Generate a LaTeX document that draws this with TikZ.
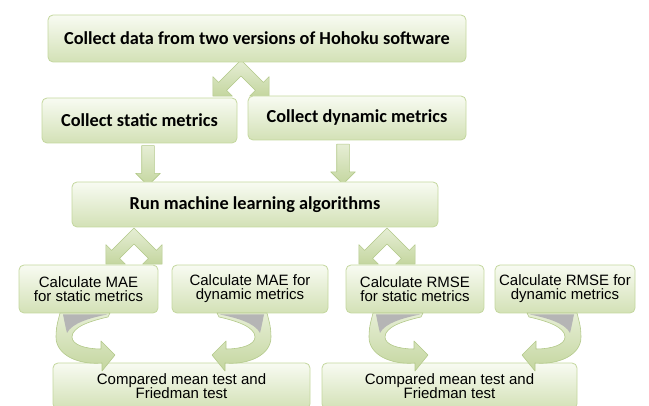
\documentclass[tikz,border=0pt]{standalone}
\usepackage{fontspec}
\setmainfont{Carlito}
\newfontfamily\arialfont{Liberation Sans}
\usetikzlibrary{shapes.arrows}
\definecolor{boxtop}{HTML}{F8FBF2}
\definecolor{boxbot}{HTML}{D3E1B6}
\definecolor{boxline}{HTML}{C4D79E}
\definecolor{arrtop}{HTML}{E6EED5}
\definecolor{arrbot}{HTML}{C4D69F}
\definecolor{arrline}{HTML}{B3C98A}
\definecolor{ribgray}{HTML}{B5B5B5}

\begin{document}
\begin{tikzpicture}[x=1pt,y=-1pt,
 box/.style={draw=boxline,line width=.8pt,rounded corners=5pt,top color=boxtop,bottom color=boxbot,
  inner sep=0pt,font=\fontsize{18.3}{21}\selectfont\bfseries},
 sbox/.style={box,align=center,font=\arialfont\fontsize{15}{14}\selectfont},
 arr/.style={draw=arrline,line width=.6pt,top color=arrtop,bottom color=arrbot,line join=round},
 down/.style={single arrow,shape border rotate=270,arr,inner sep=6pt,single arrow head extend=6pt,
  minimum height=40pt},
 chev/.pic={\path[arr] (0,-7) -- (19.5,12.5) -- (24.5,7.5) -- (24.5,24.5) -- (7.5,24.5) -- (12.5,19.5)
  -- (0,7) -- (-12.5,19.5) -- (-7.5,24.5) -- (-24.5,24.5) -- (-24.5,7.5) -- (-19.5,12.5) -- cycle;},
 turn/.pic={\path[arr] (0,0) -- (50,0) -- (48,4) .. controls (30,8) and (12,14) .. (12,24)
  .. controls (12,32) and (26,36) .. (41,36) -- (41,28) -- (55,42) -- (42,58) -- (42,50)
  .. controls (18,52) and (-4,42) .. (-4,24) .. controls (-4,12) and (-1,5) .. (0,0) -- cycle;
  \fill[ribgray] (3,1.5) -- (47,1.5) .. controls (30,5) and (12,10) .. (7,20)
  .. controls (5,12) and (4,6) .. (3,1.5) -- cycle;}]
\useasboundingbox (0,0) rectangle (649,406);
% block arrows between the levels
\pic[scale=1.15] at (241,68) {chev};
\pic[scale=1.15] at (134,236) {chev};
\pic[scale=1.15] at (387,236) {chev};
\node[down] (dl) at (148,162.5) {};
\node[down] (dr) at (343,161) {};
% boxes
\node[box,minimum width=418pt,minimum height=47pt] (coll) at (257,38.5) {Collect data from two versions of Hohoku software};
\node[box,minimum width=195pt,minimum height=45pt] (stat) at (139.5,120.5) {Collect static metrics};
\node[box,minimum width=218pt,minimum height=44pt] (dyn) at (357,118) {Collect dynamic metrics};
\node[box,minimum width=366pt,minimum height=45pt] (run) at (255,204.5) {Run machine learning algorithms};
\node[sbox,minimum width=139pt,minimum height=48pt] (maes) at (88.5,289) {Calculate MAE\\for static metrics};
\node[sbox,minimum width=156pt,minimum height=48pt] (maed) at (250,289) {Calculate MAE for\\dynamic metrics};
\node[sbox,minimum width=138pt,minimum height=48pt] (rmses) at (415,289) {Calculate RMSE\\for static metrics};
\node[sbox,minimum width=140pt,minimum height=48pt] (rmsed) at (565,289) {Calculate RMSE for\\dynamic metrics};
\node[sbox,minimum width=257pt,minimum height=46pt] (cmpl) at (181.5,386) {Compared mean test and\\Friedman test};
\node[sbox,minimum width=255pt,minimum height=46pt] (cmpr) at (449.5,386) {Compared mean test and\\Friedman test};
% turning arrows down to the tests
\pic at (60,313) {turn};
\pic[xscale=-1] at (267,313) {turn};
\pic at (373,313) {turn};
\pic[xscale=-1] at (577,313) {turn};
\end{tikzpicture}
\end{document}
